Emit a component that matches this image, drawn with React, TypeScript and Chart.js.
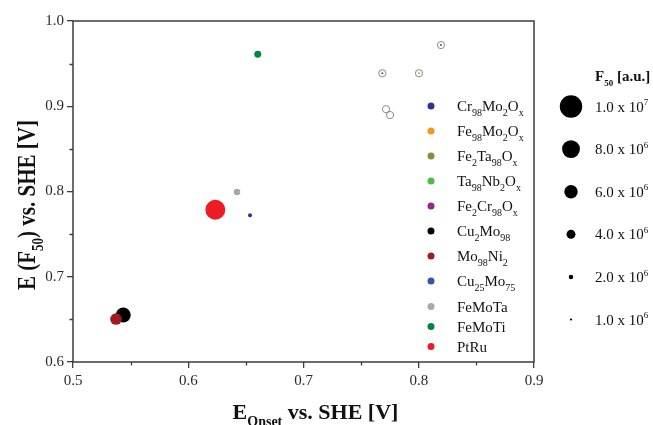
import React, { useEffect, useRef } from "react";
import { Chart, registerables } from "chart.js";

Chart.register(...registerables);

const FONT = '"Liberation Serif", "Times New Roman", serif';

// ---------- data ----------
const seriesNames = [
  "Cr_{98}Mo_{2}O_{x}",
  "Fe_{98}Mo_{2}O_{x}",
  "Fe_{2}Ta_{98}O_{x}",
  "Ta_{98}Nb_{2}O_{x}",
  "Fe_{2}Cr_{98}O_{x}",
  "Cu_{2}Mo_{98}",
  "Mo_{98}Ni_{2}",
  "Cu_{25}Mo_{75}",
  "FeMoTa",
  "FeMoTi",
  "PtRu",
];

// E_onset (x), E(F50) (y), F50 (bubble size) per series
const cr98Mo2OxOnset = [0.6536];
const cr98Mo2OxEF50 = [0.772];
const cr98Mo2OxF50 = [1.8e6];

const fe98Mo2OxOnset = [0.8002];
const fe98Mo2OxEF50 = [0.9387];
const fe98Mo2OxF50 = [0.9e6];

const fe2Ta98OxOnset: number[] = [];
const fe2Ta98OxEF50: number[] = [];
const fe2Ta98OxF50: number[] = [];

const ta98Nb2OxOnset: number[] = [];
const ta98Nb2OxEF50: number[] = [];
const ta98Nb2OxF50: number[] = [];

const fe2Cr98OxOnset: number[] = [];
const fe2Cr98OxEF50: number[] = [];
const fe2Cr98OxF50: number[] = [];

const cu2Mo98Onset = [0.5436];
const cu2Mo98EF50 = [0.6551];
const cu2Mo98F50 = [6.7e6];

const mo98Ni2Onset = [0.5373];
const mo98Ni2EF50 = [0.6504];
const mo98Ni2F50 = [5.2e6];

const cu25Mo75Onset: number[] = [];
const cu25Mo75EF50: number[] = [];
const cu25Mo75F50: number[] = [];

const feMoTaOnset = [0.6423];
const feMoTaEF50 = [0.7994];
const feMoTaF50 = [2.9e6];

const feMoTiOnset = [0.6603];
const feMoTiEF50 = [0.961];
const feMoTiF50 = [3.1e6];

const ptRuOnset = [0.6235];
const ptRuEF50 = [0.7786];
const ptRuF50 = [8.9e6];

// open ring markers (unlabelled samples)
const ringOnset = [0.7684, 0.8002, 0.8193, 0.7716, 0.7751];
const ringEF50 = [0.9387, 0.9387, 0.9718, 0.8966, 0.8897];
const ringDotOnset = [0.7684, 0.8193];
const ringDotEF50 = [0.9387, 0.9718];
const ringDotF50 = [0.9e6, 0.9e6];

// size legend
const sizeLegendValues = [1.0e7, 8.0e6, 6.0e6, 4.0e6, 2.0e6, 1.0e6];
const sizeLegendLabels = [
  "1.0 x 10^{7}",
  "8.0 x 10^{6}",
  "6.0 x 10^{6}",
  "4.0 x 10^{6}",
  "2.0 x 10^{6}",
  "1.0 x 10^{6}",
];

const xTickValues = [0.5, 0.6, 0.7, 0.8, 0.9];
const yTickValues = [0.6, 0.7, 0.8, 0.9, 1.0];
const xMinorTicks = [0.55, 0.65, 0.75, 0.85];
const yMinorTicks = [0.65, 0.75, 0.85, 0.95];

// ---------- styles ----------
const seriesColors = [
  "#2a3590",
  "#f7941d",
  "#8e8c3c",
  "#4cbb4a",
  "#93278f",
  "#000000",
  "#9e1c22",
  "#2f55ad",
  "#a8a8a8",
  "#00873f",
  "#ed1c24",
];
const FRAME = "#3c3c3c";
const F_TO_R = 1.12e-6;
const radiusFor = (f: number) => f * F_TO_R;

const legendYs = [106, 131, 156, 181, 206, 231, 256, 281, 306.5, 326.5, 346.5];

// ---------- rich text helpers ----------
type Part = { t: string; k: 0 | 1 | -1 };
function parseRich(s: string): Part[] {
  const parts: Part[] = [];
  const re = /([_^])\{([^}]*)\}/g;
  let last = 0;
  let m: RegExpExecArray | null;
  while ((m = re.exec(s))) {
    if (m.index > last) parts.push({ t: s.slice(last, m.index), k: 0 });
    parts.push({ t: m[2], k: m[1] === "_" ? 1 : -1 });
    last = re.lastIndex;
  }
  if (last < s.length) parts.push({ t: s.slice(last), k: 0 });
  return parts;
}

function drawRich(
  ctx: CanvasRenderingContext2D,
  s: string,
  x: number,
  y: number,
  size: number,
  bold: boolean,
  align: "left" | "center",
  subSize: number,
  color = "#111"
) {
  const parts = parseRich(s);
  const w = bold ? "bold " : "";
  const fontFor = (p: Part) => `${w}${p.k === 0 ? size : subSize}px ${FONT}`;
  let total = 0;
  for (const p of parts) {
    ctx.font = fontFor(p);
    total += ctx.measureText(p.t).width;
  }
  let cx = align === "center" ? x - total / 2 : x;
  ctx.fillStyle = color;
  ctx.textAlign = "left";
  ctx.textBaseline = "alphabetic";
  for (const p of parts) {
    ctx.font = fontFor(p);
    const dy = p.k === 1 ? size * 0.3 : p.k === -1 ? -size * 0.42 : 0;
    ctx.fillText(p.t, cx, y + dy);
    cx += ctx.measureText(p.t).width;
  }
}

function pts(xs: number[], ys: number[], fs?: number[]) {
  return xs.map((x, i) => ({ x, y: ys[i], f: fs ? fs[i] : 0 }));
}

export default function App() {
  const ref = useRef<HTMLCanvasElement | null>(null);

  useEffect(() => {
    if (!ref.current) return;

    const seriesData = [
      pts(cr98Mo2OxOnset, cr98Mo2OxEF50, cr98Mo2OxF50),
      pts(fe98Mo2OxOnset, fe98Mo2OxEF50, fe98Mo2OxF50),
      pts(fe2Ta98OxOnset, fe2Ta98OxEF50, fe2Ta98OxF50),
      pts(ta98Nb2OxOnset, ta98Nb2OxEF50, ta98Nb2OxF50),
      pts(fe2Cr98OxOnset, fe2Cr98OxEF50, fe2Cr98OxF50),
      pts(cu2Mo98Onset, cu2Mo98EF50, cu2Mo98F50),
      pts(mo98Ni2Onset, mo98Ni2EF50, mo98Ni2F50),
      pts(cu25Mo75Onset, cu25Mo75EF50, cu25Mo75F50),
      pts(feMoTaOnset, feMoTaEF50, feMoTaF50),
      pts(feMoTiOnset, feMoTiEF50, feMoTiF50),
      pts(ptRuOnset, ptRuEF50, ptRuF50),
    ];

    const datasets: any[] = seriesData.map((data, i) => ({
      label: seriesNames[i],
      data,
      backgroundColor: seriesColors[i],
      borderWidth: 0,
      pointRadius: (c: any) => radiusFor(c.raw ? c.raw.f : 0),
      pointHoverRadius: (c: any) => radiusFor(c.raw ? c.raw.f : 0),
      order: i === 6 ? 0 : i === 1 ? 0 : 2,
    }));
    datasets.push({
      label: "rings",
      data: pts(ringOnset, ringEF50),
      backgroundColor: "rgba(0,0,0,0)",
      borderColor: "#8a8a8a",
      borderWidth: 1,
      pointRadius: 3.6,
      order: 5,
    });
    datasets.push({
      label: "ringDots",
      data: pts(ringDotOnset, ringDotEF50, ringDotF50),
      backgroundColor: "#555555",
      borderWidth: 0,
      pointRadius: (c: any) => radiusFor(c.raw ? c.raw.f : 0),
      order: 1,
    });

    const overlay = {
      id: "overlay",
      beforeDatasetsDraw(chart: any) {
        const ctx = chart.ctx as CanvasRenderingContext2D;
        const { left, right, top, bottom } = chart.chartArea;
        const xs = chart.scales.x;
        const ys = chart.scales.y;
        ctx.save();
        ctx.strokeStyle = FRAME;
        ctx.lineWidth = 1.5;
        ctx.strokeRect(left, top, right - left, bottom - top);
        ctx.lineWidth = 1.3;
        ctx.beginPath();
        for (const v of xMinorTicks) {
          const px = Math.round(xs.getPixelForValue(v)) + 0.5;
          ctx.moveTo(px, bottom);
          ctx.lineTo(px, bottom + 3.5);
        }
        for (const v of yMinorTicks) {
          const py = Math.round(ys.getPixelForValue(v)) + 0.5;
          ctx.moveTo(left, py);
          ctx.lineTo(left - 3.5, py);
        }
        ctx.stroke();
        ctx.restore();
      },
      afterDraw(chart: any) {
        const ctx = chart.ctx as CanvasRenderingContext2D;
        const { left, right } = chart.chartArea;
        ctx.save();
        // x title
        drawRich(ctx, "E_{Onset} vs. SHE [V]", (left + right) / 2 + 12, 419, 22, true, "center", 14);
        // y title (rotated)
        ctx.save();
        ctx.translate(35, 205);
        ctx.rotate(-Math.PI / 2);
        ctx.scale(1, 1.22);
        drawRich(ctx, "E (F_{50}) vs. SHE [V]", 0, 0, 21, true, "center", 13);
        ctx.restore();

        // series legend
        seriesNames.forEach((name, i) => {
          const y = legendYs[i];
          ctx.beginPath();
          ctx.fillStyle = seriesColors[i];
          ctx.arc(431, y, 3.5, 0, Math.PI * 2);
          ctx.fill();
          drawRich(ctx, name, 457, y + 5, 15, false, "left", 10);
        });

        // size legend
        drawRich(ctx, "F_{50} [a.u.]", 595, 81, 15, true, "left", 9);
        sizeLegendValues.forEach((v, i) => {
          const y = 106.5 + i * 42.6;
          ctx.beginPath();
          ctx.fillStyle = "#000";
          ctx.arc(571, y, radiusFor(v), 0, Math.PI * 2);
          ctx.fill();
          drawRich(ctx, sizeLegendLabels[i], 595, y + 5, 15, false, "left", 9);
        });
        ctx.restore();
      },
    };

    const chart = new Chart(ref.current, {
      type: "scatter",
      data: { datasets },
      options: {
        animation: false,
        responsive: false,
        devicePixelRatio: 1,
        layout: { padding: { left: 0, top: 21, right: 119, bottom: 0 } },
        plugins: { legend: { display: false }, tooltip: { enabled: false } },
        scales: {
          x: {
            type: "linear",
            min: 0.5,
            max: 0.9,
            afterBuildTicks: (s: any) => {
              s.ticks = xTickValues.map((v) => ({ value: v }));
            },
            afterFit: (s: any) => {
              s.height = 63;
            },
            ticks: {
              callback: (v: any) => Number(v).toFixed(1),
              font: { family: FONT, size: 15 },
              color: "#2a2a2a",
              padding: 4,
              maxRotation: 0,
              autoSkip: false,
            },
            grid: {
              drawOnChartArea: false,
              drawTicks: true,
              tickLength: 6,
              color: FRAME,
              lineWidth: 1.3,
            },
            border: { display: false },
          },
          y: {
            type: "linear",
            min: 0.6,
            max: 1.0,
            afterBuildTicks: (s: any) => {
              s.ticks = yTickValues.map((v) => ({ value: v }));
            },
            afterFit: (s: any) => {
              s.width = 73;
            },
            ticks: {
              callback: (v: any) => Number(v).toFixed(1),
              font: { family: FONT, size: 15 },
              color: "#2a2a2a",
              padding: 3,
              autoSkip: false,
            },
            grid: {
              drawOnChartArea: false,
              drawTicks: true,
              tickLength: 6,
              color: FRAME,
              lineWidth: 1.3,
            },
            border: { display: false },
          },
        },
      },
      plugins: [overlay],
    } as any);

    return () => chart.destroy();
  }, []);

  return (
    <div style={{ position: "fixed", left: 0, top: 0, width: 653, height: 425, background: "#fff" }}>
      <canvas ref={ref} width={653} height={425} style={{ display: "block" }} />
    </div>
  );
}
